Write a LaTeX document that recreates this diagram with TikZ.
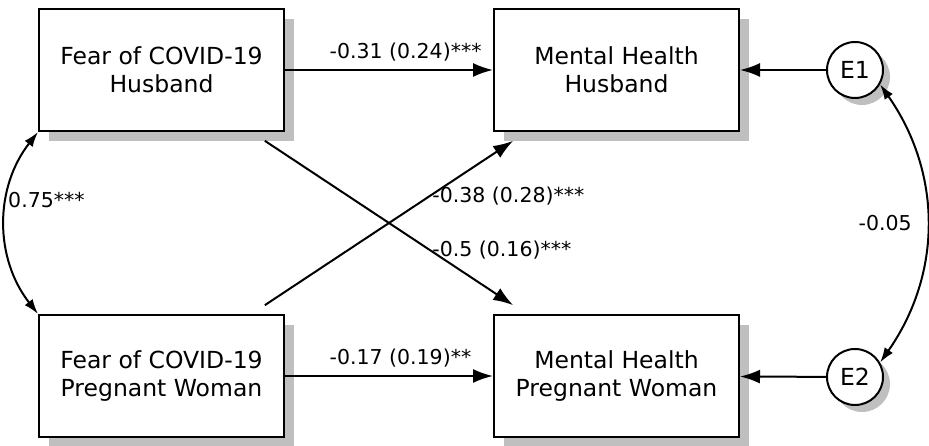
\documentclass[tikz,border=0pt]{standalone}
\usepackage{fontspec}
\setmainfont{DejaVu Sans}
\usepackage{tikz}
\usetikzlibrary{arrows.meta}
\usetikzlibrary{shadows}
\newcommand{\widthbox}{245pt}
\newcommand{\heightbox}{122pt}
\tikzset{
    common/.style={draw, line width=2pt, fill=white, font=\fontsize{23.5}{28}\selectfont},
    var/.style={common, rectangle, align=center, minimum width=\widthbox, minimum height=\heightbox,
        drop shadow={shadow xshift=10pt, shadow yshift=-10pt, fill=black!25, opacity=1}},
    err/.style={common, circle, minimum size=56pt, inner sep=0pt,
        drop shadow={shadow xshift=7pt, shadow yshift=-7pt, fill=black!25, opacity=1}},
    reg/.style={line width=2pt, -{Latex[length=20pt,width=14pt]}},
    cov/.style={line width=2pt, {Latex[length=15pt,width=10pt]}-{Latex[length=15pt,width=10pt]}},
    coef/.style={font=\fontsize{20.5}{24}\selectfont, inner sep=2pt}
}

\begin{document}
\begin{tikzpicture}[x=1pt,y=1pt]
    \useasboundingbox (0,0) rectangle (929,446);
    \node[var] (fearH) at (161.5,376) {Fear of COVID-19\\Husband};
    \node[var] (fearP) at (161.5,70) {Fear of COVID-19\\Pregnant Woman};
    \node[var] (mentH) at (616.5,376) {Mental Health\\Husband};
    \node[var] (mentP) at (616.5,70) {Mental Health\\Pregnant Woman};
    \node[err] (e1) at (855,376) {E1};
    \node[err] (e2) at (855,69) {E2};

    \draw[reg] (fearH) -- node[coef, pos=0.2, anchor=south west, yshift=6pt] {-0.31 (0.24)***} (mentH);
    \draw[reg] (fearP) -- node[coef, pos=0.2, anchor=south west, yshift=6pt] {-0.17 (0.19)**} (mentP);
    \draw[reg, shorten <=16pt, shorten >=16pt] ([xshift=90pt]fearH.south) -- node[coef, pos=0.647, anchor=west] {-0.5 (0.16)***} ([xshift=-90pt]mentP.north);
    \draw[reg, shorten <=16pt, shorten >=16pt] ([xshift=90pt]fearP.north) -- node[coef, pos=0.647, anchor=west] {-0.38 (0.28)***} ([xshift=-90pt]mentH.south);
    \draw[reg] (e1) -- (mentH);
    \draw[reg] (e2) -- (mentP);

    % covariances
    \draw[cov] (fearH.south west) to[out=232, in=128] node[coef, pos=0.5, anchor=west, yshift=23pt] {0.75***} (fearP.north west);
    \draw[cov] (e1.-30) to[out=-55, in=55] node[coef, pos=0.5, anchor=east, xshift=-12pt] {-0.05} (e2.30);
\end{tikzpicture}
\end{document}
